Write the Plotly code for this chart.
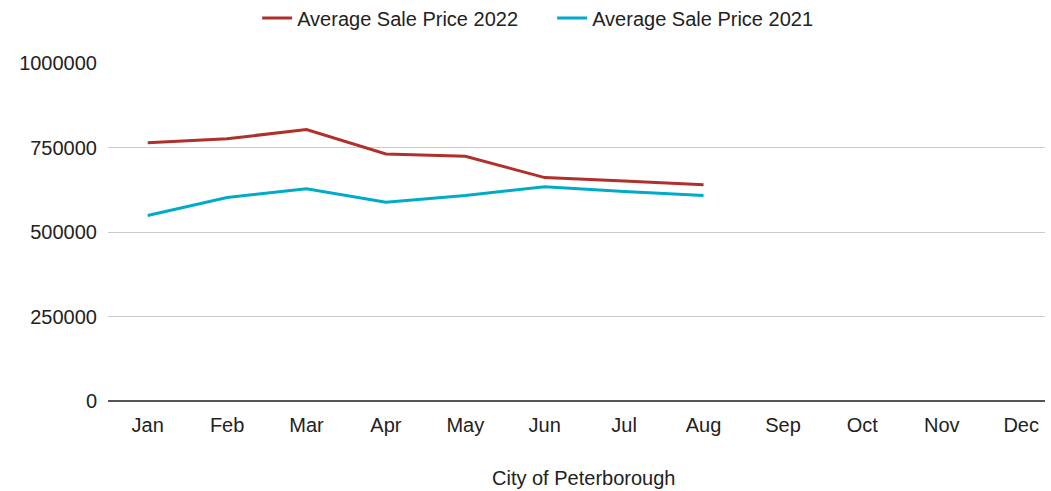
import plotly.graph_objects as go

months = ["Jan", "Feb", "Mar", "Apr", "May", "Jun", "Jul", "Aug", "Sep", "Oct", "Nov", "Dec"]
price_2022 = [764000, 776000, 803000, 731000, 724000, 661000, 651000, 640000]
price_2021 = [549000, 602000, 628000, 588000, 608000, 634000, 620000, 608000]
y_ticks = [0, 250000, 500000, 750000, 1000000]
x_title = "City of Peterborough"

fig = go.Figure()
fig.add_trace(go.Scatter(x=months[:len(price_2022)], y=price_2022, mode="lines",
                         name="Average Sale Price 2022", line=dict(color="#b0302c", width=3)))
fig.add_trace(go.Scatter(x=months[:len(price_2021)], y=price_2021, mode="lines",
                         name="Average Sale Price 2021", line=dict(color="#00abc8", width=3)))

FONT = "Liberation Sans, Arial, sans-serif"
fig.update_layout(
    width=1051, height=491,
    margin=dict(l=108, r=6, t=63, b=90, autoexpand=False),
    paper_bgcolor="white", plot_bgcolor="white",
    font=dict(family=FONT, size=20, color="#222222"),
    legend=dict(orientation="h", x=0.474, xanchor="center", y=1.133, yanchor="middle",
                font=dict(family=FONT, size=20), itemwidth=30, traceorder="normal",
                entrywidth=250, entrywidthmode="pixels"),
    xaxis=dict(categoryorder="array", categoryarray=months, range=[-0.5, 11.3],
               showgrid=False, showline=False, ticks="", automargin=False,
               ticklabelstandoff=10),
    yaxis=dict(range=[0, 1000000], tickvals=y_ticks, tickformat="d", automargin=False,
               showgrid=True, gridcolor="#cccccc", gridwidth=1,
               zeroline=True, zerolinecolor="#555555", zerolinewidth=2,
               ticks="", ticklabelstandoff=10),
    annotations=[dict(text=x_title, xref="paper", yref="paper", x=0.508, y=-0.228,
                      xanchor="center", yanchor="middle", showarrow=False,
                      font=dict(family=FONT, size=20, color="#222222"))],
)
fig.update_xaxes(type="category")
fig.write_html("out.html", config={"displayModeBar": False},
               post_script="document.body.style.margin='0';document.body.style.padding='0';")
